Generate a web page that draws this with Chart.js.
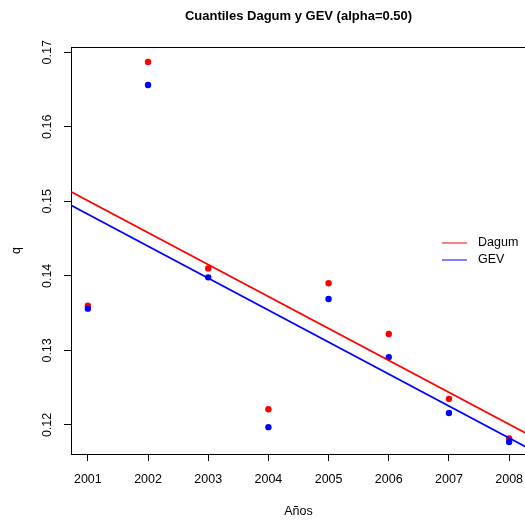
<!DOCTYPE html>
<html>
<head>
<meta charset="utf-8">
<title>Cuantiles Dagum y GEV</title>
<script src="https://cdn.jsdelivr.net/npm/chart.js@4.4.0/dist/chart.umd.min.js"></script>
<style>
  html, body { margin: 0; padding: 0; background: #fff; overflow: hidden; width: 525px; height: 523px; }
  #wrap { position: relative; width: 540px; height: 523px; }
</style>
</head>
<body>
<div id="wrap"><canvas id="c" width="540" height="523"></canvas></div>
<script>
// Median quantiles (alpha = 0.50) per year for the two fitted distributions
const years = [2001, 2002, 2003, 2004, 2005, 2006, 2007, 2008];
const dagum = [0.1360, 0.1687, 0.1410, 0.1221, 0.1390, 0.1322, 0.1235, 0.1182];
const gev   = [0.1356, 0.1656, 0.1398, 0.1197, 0.1369, 0.1291, 0.1216, 0.1177];

const xTicks = [2001, 2002, 2003, 2004, 2005, 2006, 2007, 2008];
const yTicks = [0.12, 0.13, 0.14, 0.15, 0.16, 0.17];
const xRange = [2000.72, 2008.28];
const yRange = [0.1161, 0.1707];

const FONT = "'Liberation Sans', Arial, Helvetica, sans-serif";
const RED = '#ff0000';
const BLUE = '#0000ff';

// Ordinary least-squares trend line y = a + b * x
function linFit(xs, ys) {
  const n = xs.length;
  const mx = xs.reduce((s, v) => s + v, 0) / n;
  const my = ys.reduce((s, v) => s + v, 0) / n;
  let sxy = 0, sxx = 0;
  for (let i = 0; i < n; i++) {
    sxy += (xs[i] - mx) * (ys[i] - my);
    sxx += (xs[i] - mx) * (xs[i] - mx);
  }
  const b = sxy / sxx;
  return { a: my - b * mx, b };
}
function trend(ys) {
  const f = linFit(years, ys);
  return xRange.map(x => ({ x, y: f.a + f.b * x }));
}
const pts = ys => years.map((x, i) => ({ x, y: ys[i] }));

// Frame around the plotting region
const boxPlugin = {
  id: 'box',
  afterDraw(chart) {
    const { ctx, chartArea: a } = chart;
    ctx.save();
    ctx.strokeStyle = '#000';
    ctx.lineWidth = 1;
    ctx.beginPath();
    ctx.moveTo(a.left, a.top + 0.5);
    ctx.lineTo(a.right, a.top + 0.5);
    ctx.moveTo(a.right - 0.5, a.top);
    ctx.lineTo(a.right - 0.5, a.bottom);
    ctx.stroke();
    ctx.restore();
  }
};

// Line legend on the right side of the plot
const legendPlugin = {
  id: 'lineLegend',
  afterDraw(chart) {
    const { ctx } = chart;
    const entries = chart.data.datasets.filter(d => d.inLegend);
    entries.sort((p, q) => p.legendRank - q.legendRank);
    ctx.save();
    ctx.font = '12.5px ' + FONT;
    ctx.textBaseline = 'middle';
    ctx.textAlign = 'left';
    entries.forEach((d, i) => {
      const y = 243 + i * 17;
      ctx.strokeStyle = d.borderColor;
      ctx.lineWidth = 1;
      ctx.beginPath();
      ctx.moveTo(442, y);
      ctx.lineTo(467, y);
      ctx.stroke();
      ctx.fillStyle = '#000';
      ctx.fillText(d.label, 478, y);
    });
    ctx.restore();
  }
};

new Chart(document.getElementById('c'), {
  type: 'scatter',
  data: {
    datasets: [
      { label: 'GEV', data: trend(gev), showLine: true, borderColor: BLUE, borderWidth: 1.8,
        pointRadius: 0, inLegend: true, legendRank: 1 },
      { label: 'Dagum', data: trend(dagum), showLine: true, borderColor: RED, borderWidth: 1.8,
        pointRadius: 0, inLegend: true, legendRank: 0 },
      { label: 'GEV q', data: pts(gev), showLine: false, backgroundColor: BLUE, borderColor: BLUE,
        pointRadius: 3.2, pointBorderWidth: 0 },
      { label: 'Dagum q', data: pts(dagum), showLine: false, backgroundColor: RED, borderColor: RED,
        pointRadius: 3.2, pointBorderWidth: 0 }
    ]
  },
  options: {
    responsive: false,
    devicePixelRatio: 1,
    animation: false,
    events: [],
    layout: { padding: { left: 0, right: 14, top: 0, bottom: 0 } },
    plugins: {
      legend: { display: false },
      tooltip: { enabled: false },
      title: {
        display: true,
        text: 'Cuantiles Dagum y GEV (alpha=0.50)',
        fullSize: false,
        color: '#000',
        font: { family: FONT, size: 13, weight: 'bold', lineHeight: 1.2 },
        padding: { top: 8.2, bottom: 23.2 }
      }
    },
    scales: {
      x: {
        type: 'linear',
        position: 'bottom',
        min: xRange[0],
        max: xRange[1],
        afterBuildTicks: s => { s.ticks = xTicks.map(v => ({ value: v })); },
        afterFit: s => { s.height = 69; },
        ticks: {
          autoSkip: false, maxRotation: 0, minRotation: 0,
          color: '#000', padding: 11.5,
          font: { family: FONT, size: 12.5, lineHeight: 1.2 },
          callback: v => String(v)
        },
        grid: { drawOnChartArea: false, drawTicks: true, tickLength: 7, color: '#000', tickColor: '#000' },
        border: { display: true, color: '#000', width: 1 },
        title: {
          display: true, text: 'Años', color: '#000',
          font: { family: FONT, size: 12.5, lineHeight: 1.2 },
          padding: { top: 0, bottom: 3.5 }
        }
      },
      y: {
        type: 'linear',
        position: 'left',
        min: yRange[0],
        max: yRange[1],
        afterBuildTicks: s => { s.ticks = yTicks.map(v => ({ value: v })); },
        afterFit: s => { s.width = 71; },
        ticks: {
          autoSkip: false, minRotation: 90, maxRotation: 90, crossAlign: 'center',
          color: '#000', padding: 4,
          font: { family: FONT, size: 12.5, lineHeight: 1.2 },
          callback: v => v.toFixed(2)
        },
        grid: { drawOnChartArea: false, drawTicks: true, tickLength: 7, color: '#000', tickColor: '#000' },
        border: { display: true, color: '#000', width: 1 },
        title: {
          display: true, text: 'q', color: '#000',
          font: { family: FONT, size: 12.5, lineHeight: 1.2 },
          padding: { top: 9, bottom: 0 }
        }
      }
    }
  },
  plugins: [boxPlugin, legendPlugin]
});
</script>
</body>
</html>
